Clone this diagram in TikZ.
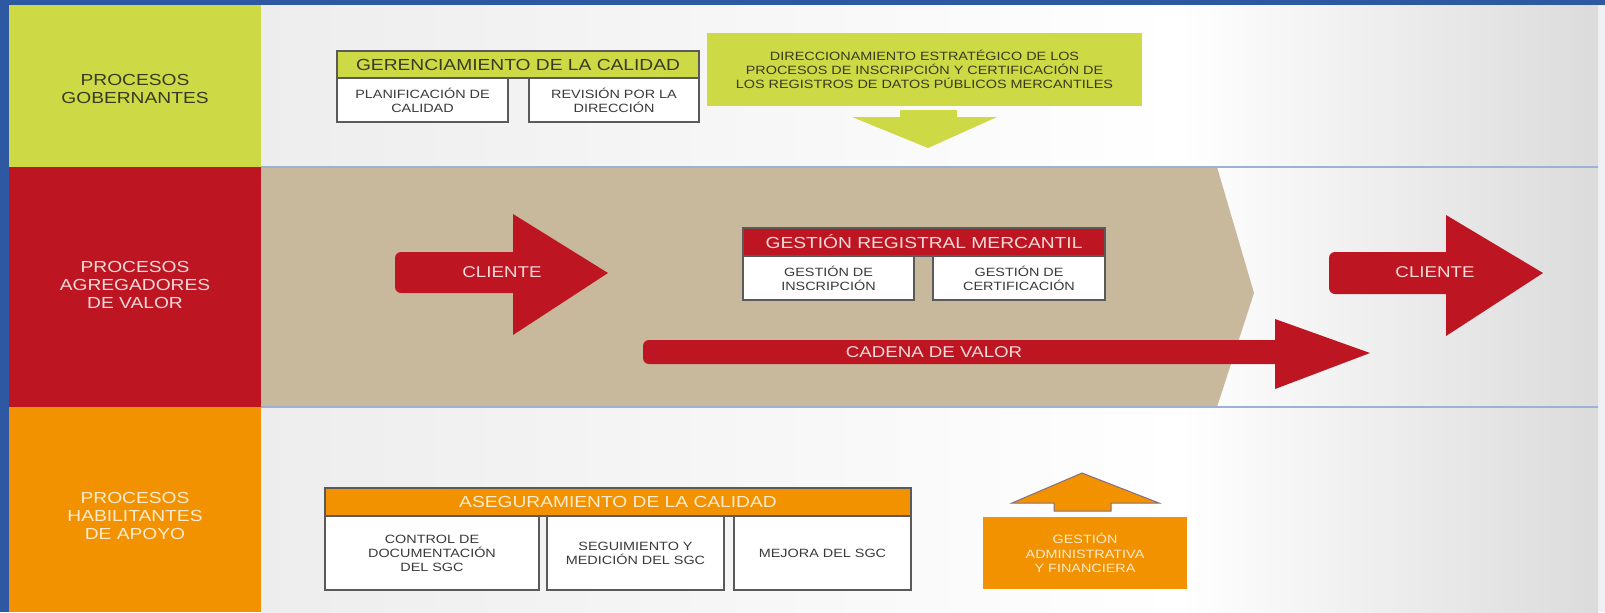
\documentclass[tikz,border=0pt]{standalone}
\usepackage{fontspec}
\setmainfont[FakeStretch=1.2]{Liberation Sans}
\definecolor{bblue}{HTML}{2F58A3}
\definecolor{lgreen}{HTML}{CDD945}
\definecolor{dred}{HTML}{BD1622}
\definecolor{orng}{HTML}{F39200}
\definecolor{tan}{HTML}{C9B99C}
\definecolor{sepline}{HTML}{9DB1D2}
\definecolor{boxline}{HTML}{5A5A5A}
\definecolor{subtext}{HTML}{3A3A3A}
\definecolor{darktext}{HTML}{3A3A22}
\definecolor{pinktext}{HTML}{F6DADA}
\definecolor{creamtext}{HTML}{FDEBD0}
\definecolor{arrowline}{HTML}{7E6E86}
\definecolor{edgegray}{HTML}{EEF0F3}
\tikzset{
  lab/.style={align=center, font=\fontsize{8}{8.8}\selectfont},
  hdr/.style={draw=boxline, line width=0.8pt, inner sep=0pt, font=\fontsize{8}{9}\selectfont},
  subbox/.style={draw=boxline, fill=white, line width=0.8pt, inner sep=0pt, align=center, text=subtext, font=\fontsize{6}{7}\selectfont},
  arrtext/.style={text=pinktext, font=\fontsize{7.8}{9}\selectfont},
}
\begin{document}
\begin{tikzpicture}[x=0.5pt,y=-0.5pt]
\useasboundingbox (0,0) rectangle (1605,612);
% frame and background
\fill[bblue] (0,0) rectangle (1605,612);
\fill[edgegray] (1598,5) rectangle (1605,612);
\shade[left color=black!7, right color=white] (261,5) rectangle (1180,612);
\shade[left color=white, right color=black!14] (1180,5) rectangle (1598,612);
% label column
\fill[lgreen] (9,5) rectangle (261,167);
\fill[dred] (9,167) rectangle (261,407);
\fill[orng] (9,407) rectangle (261,612);
\node[lab, text=darktext] (lgob) at (135,89) {PROCESOS\\GOBERNANTES};
\node[lab, text=pinktext] (lagr) at (135,285) {PROCESOS\\AGREGADORES\\DE VALOR};
\node[lab, text=creamtext] (lhab) at (135,516) {PROCESOS\\HABILITANTES\\DE APOYO};
% value-chain band
\fill[tan] (261,167) -- (1217,167) -- (1254,293) -- (1217,407) -- (261,407) -- cycle;
\draw[sepline, line width=0.8pt] (261,167) -- (1598,167);
\draw[sepline, line width=0.8pt] (261,407) -- (1598,407);
% governing row
\node[hdr, fill=lgreen, text=darktext, minimum width=181pt, minimum height=13.5pt] (ger) at (518,64.5) {GERENCIAMIENTO DE LA CALIDAD};
\node[subbox, minimum width=85.5pt, minimum height=22pt] (plan) at (422.5,100) {PLANIFICACIÓN DE\\CALIDAD};
\node[subbox, minimum width=85pt, minimum height=22pt] (rev) at (614,100) {REVISIÓN POR LA\\DIRECCIÓN};
\node[fill=lgreen, inner sep=0pt, minimum width=217.5pt, minimum height=36.5pt, align=center, text=darktext, font=\fontsize{6}{7}\selectfont] (dir) at (924.5,69.5) {DIRECCIONAMIENTO ESTRATÉGICO DE LOS\\PROCESOS DE INSCRIPCIÓN Y CERTIFICACIÓN DE\\LOS REGISTROS DE DATOS PÚBLICOS MERCANTILES};
\fill[lgreen] (900,110) -- (957,110) -- (957,117) -- (997,117) -- (928,148) -- (852,117) -- (900,117) -- cycle;
% value-adding row
\fill[dred] (513,252) {[rounded corners=3pt] -- (395,252) -- (395,293)} -- (513,293) -- (513,335) -- (608,273) -- (513,214) -- cycle;
\node[arrtext] (cli1) at (502,272) {CLIENTE};
\fill[dred] (1446,252) {[rounded corners=3pt] -- (1329,252) -- (1329,294)} -- (1446,294) -- (1446,336) -- (1543,273) -- (1446,215) -- cycle;
\node[arrtext] (cli2) at (1435,272) {CLIENTE};
\fill[dred] (1275,340) {[rounded corners=3pt] -- (643,340) -- (643,364)} -- (1275,364) -- (1275,389) -- (1370,353) -- (1275,319) -- cycle;
\node[arrtext] (cad) at (934,352) {CADENA DE VALOR};
\node[hdr, fill=dred, text=pinktext, minimum width=181pt, minimum height=14pt] (grm) at (924,242) {GESTIÓN REGISTRAL MERCANTIL};
\node[subbox, minimum width=85.5pt, minimum height=22pt] (ins) at (828.5,278) {GESTIÓN DE\\INSCRIPCIÓN};
\node[subbox, minimum width=86pt, minimum height=22pt] (cer) at (1019,278) {GESTIÓN DE\\CERTIFICACIÓN};
% enabling row
\node[hdr, fill=orng, text=creamtext, minimum width=293pt, minimum height=14pt] (ase) at (618,502) {ASEGURAMIENTO DE LA CALIDAD};
\node[subbox, minimum width=107pt, minimum height=37pt] (doc) at (432,553) {CONTROL DE\\DOCUMENTACIÓN\\DEL SGC};
\node[subbox, minimum width=88.5pt, minimum height=37pt] (seg) at (635.5,553) {SEGUIMIENTO Y\\MEDICIÓN DEL SGC};
\node[subbox, minimum width=88.5pt, minimum height=37pt] (mej) at (822.5,553) {MEJORA DEL SGC};
\filldraw[fill=orng, draw=arrowline, line width=0.5pt] (1082,473) -- (1159,503) -- (1111,503) -- (1111,511) -- (1054,511) -- (1054,503) -- (1012,503) -- cycle;
\node[fill=orng, inner sep=0pt, minimum width=102pt, minimum height=36pt, align=center, text=creamtext, font=\fontsize{6}{7.2}\selectfont] (adm) at (1085,553) {GESTIÓN\\ADMINISTRATIVA\\Y FINANCIERA};
\end{tikzpicture}
\end{document}
